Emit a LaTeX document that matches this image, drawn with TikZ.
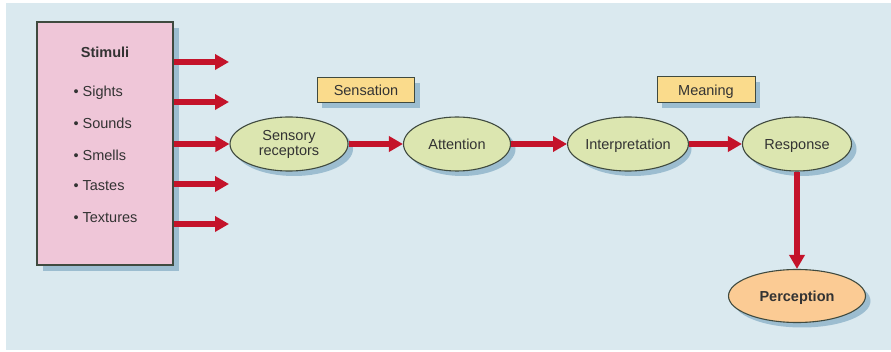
\documentclass[tikz,border=0pt]{standalone}
\usepackage{fontspec}
\setmainfont{Liberation Sans}
\usetikzlibrary{shapes.geometric,arrows.meta}
\definecolor{panelblue}{HTML}{DAE9EF}
\definecolor{shadowblue}{HTML}{8DB3C9}
\definecolor{stimpink}{HTML}{EFC6D8}
\definecolor{leafgreen}{HTML}{DCE6B0}
\definecolor{peach}{HTML}{FBCB94}
\definecolor{labelyellow}{HTML}{FADB8C}
\definecolor{flowred}{HTML}{C4132A}
\definecolor{edgegray}{HTML}{3F4A3F}
\tikzset{
  txt/.style={font=\fontsize{14.5}{17}\selectfont, text=black!80},
  oneline/.style={text height=12pt, text depth=1.6pt},
  stage/.style={ellipse, draw=edgegray, line width=1.1pt, fill=leafgreen,
    inner sep=0pt, txt, align=center},
  tag/.style={rectangle, draw=edgegray, line width=1pt, fill=labelyellow,
    inner sep=0pt, txt, oneline},
  flow/.style={draw=flowred, line width=6pt,
    -{Triangle[length=14pt,width=15pt]}},
  drop/.style={shadowblue, opacity=0.8}
}
\begin{document}
\begin{tikzpicture}[x=1pt,y=-1pt]
  \useasboundingbox (0,0) rectangle (891,352);
  \fill[white] (0,0) rectangle (891,352);
  \fill[panelblue] (6,3) rectangle (891,350);

  % stimuli panel with its shadow
  \fill[drop] (43,28) rectangle (179,271);
  \node[draw=edgegray, line width=1.1pt, fill=stimpink, minimum width=136pt,
    minimum height=243pt, inner sep=0pt] (stim) at (105,143.5) {};
  \node[txt, oneline, font=\bfseries\fontsize{14.5}{17}\selectfont] (stimtitle) at (105,52) {Stimuli};
  \node[txt, oneline, anchor=west] (s1) at (70,91) {\textbullet\ Sights};
  \node[txt, oneline, anchor=west] (s2) at (70,123) {\textbullet\ Sounds};
  \node[txt, oneline, anchor=west] (s3) at (70,155) {\textbullet\ Smells};
  \node[txt, oneline, anchor=west] (s4) at (70,185) {\textbullet\ Tastes};
  \node[txt, oneline, anchor=west] (s5) at (70,217) {\textbullet\ Textures};

  % arrow ends to the right of the panel
  \coordinate (e1) at (229,62);
  \coordinate (e2) at (229,102);
  \coordinate (e4) at (229,184);
  \coordinate (e5) at (229,224);

  % shadows of the stages
  \fill[drop] (294,149) ellipse [x radius=59pt, y radius=27pt];
  \fill[drop] (462,149) ellipse [x radius=53.5pt, y radius=27pt];
  \fill[drop] (633,149) ellipse [x radius=58.5pt, y radius=27pt];
  \fill[drop] (802,149) ellipse [x radius=54.5pt, y radius=27pt];
  \fill[drop] (802,301) ellipse [x radius=68.5pt, y radius=26.5pt];
  \fill[drop] (322,83) rectangle (420,108);
  \fill[drop] (662,82) rectangle (760,108);

  % stages
  \node[stage, minimum width=118pt, minimum height=54pt] (sens) at (289,144)
    {Sensory\\[-2pt]receptors};
  \node[stage, oneline, minimum width=107pt, minimum height=54pt] (att) at (457,144) {Attention};
  \node[stage, oneline, minimum width=117pt, minimum height=54pt] (interp) at (628,144) {Interpretation};
  \node[stage, oneline, minimum width=109pt, minimum height=54pt] (resp) at (797,144) {Response};
  \node[stage, oneline, fill=peach, minimum width=137pt, minimum height=53pt,
    font=\bfseries\fontsize{14.5}{17}\selectfont] (perc) at (797,296) {Perception};

  % stage labels
  \node[tag, minimum width=97pt, minimum height=25pt] (sensation) at (366,90) {Sensation};
  \node[tag, minimum width=98pt, minimum height=26pt] (meaning) at (706,90) {Meaning};

  % flow arrows
  \draw[flow] (stim.east |- e1) -- (e1);
  \draw[flow] (stim.east |- e2) -- (e2);
  \draw[flow] (stim.east |- sens.west) -- (sens.west);
  \draw[flow] (stim.east |- e4) -- (e4);
  \draw[flow] (stim.east |- e5) -- (e5);
  \draw[flow] (sens) -- (att);
  \draw[flow] (att) -- (interp);
  \draw[flow] (interp) -- (resp);
  \draw[flow] (resp) -- (perc);
\end{tikzpicture}
\end{document}
